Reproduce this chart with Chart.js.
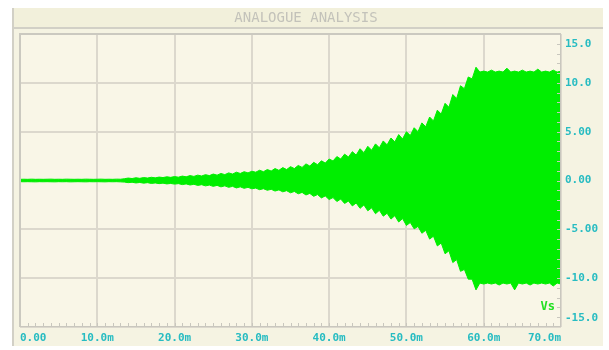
<!DOCTYPE html>
<html>
<head>
<meta charset="utf-8">
<title>ANALOGUE ANALYSIS</title>
<script src="https://cdn.jsdelivr.net/npm/chart.js@4/dist/chart.umd.min.js"></script>
<style>
  html, body { margin: 0; padding: 0; background: #ffffff; }
  #wrap { width: 609px; height: 350px; }
</style>
</head>
<body>
<div id="wrap"><canvas id="c" width="609" height="350"></canvas></div>
<script>
// Simulation time, in milliseconds
const timeMs = [
  0,0.5,1,1.5,2,2.5,3,3.5,4,4.5,5,5.5,6,6.5,7,7.5,8,8.5,9,9.5,10,10.5,11,11.5,12,12.5,13,
  13.5,14,14.5,15,15.5,16,16.5,17,17.5,18,18.5,19,19.5,20,
  20.5,21,21.5,22,22.5,23,23.5,24,24.5,25,25.5,26,26.5,27,27.5,28,28.5,29,29.5,30,
  30.5,31,31.5,32,32.5,33,33.5,34,34.5,35,35.5,36,36.5,37,37.5,38,38.5,39,39.5,40,
  40.5,41,41.5,42,42.5,43,43.5,44,44.5,45,45.5,46,46.5,47,47.5,48,48.5,49,49.5,50,
  50.5,51,51.5,52,52.5,53,53.5,54,54.5,55,55.5,56,56.5,57,57.5,58,58.5,59,59.5,60,
  60.5,61,61.5,62,62.5,63,63.5,64,64.5,65,65.5,66,66.5,67,67.5,68,68.5,69,69.5,70
];

// Vs: upper peaks of the oscillation (V)
const vsUpper = [
  0.12,0.13,0.12,0.14,0.12,0.13,0.12,0.13,0.14,0.12,0.13,0.12,0.14,0.13,0.12,0.13,0.12,0.14,0.13,0.12,0.13,0.14,0.12,0.13,0.12,0.14,0.13,
  0.18,0.25,0.2,0.28,0.22,0.3,0.25,0.33,0.27,0.35,0.3,0.38,0.32,0.4,
  0.34,0.45,0.38,0.5,0.42,0.55,0.46,0.6,0.5,0.66,0.55,0.72,0.6,0.78,0.66,0.85,0.72,0.9,0.78,0.95,
  0.85,1.05,0.9,1.12,0.97,1.22,1.04,1.32,1.12,1.42,1.22,1.54,1.34,1.7,1.48,1.86,1.62,2.02,1.78,2.2,
  2.0,2.45,2.2,2.7,2.4,2.95,2.6,3.25,2.85,3.5,3.1,3.75,3.35,4.05,3.65,4.35,3.95,4.7,4.25,5.0,
  4.6,5.4,5.0,5.9,5.5,6.5,6.1,7.2,6.8,7.9,7.5,8.8,8.4,9.7,9.4,10.6,10.4,11.6,11.1,11.2,
  11.1,11.3,11.1,11.2,11.1,11.5,11.1,11.2,11.1,11.3,11.1,11.2,11.1,11.4,11.1,11.2,11.1,11.3,11.1,11.2
];

// Vs: lower peaks of the oscillation (V)
const vsLower = [
  -0.12,-0.13,-0.12,-0.13,-0.14,-0.12,-0.13,-0.12,-0.13,-0.14,-0.12,-0.13,-0.12,-0.14,-0.13,-0.12,-0.13,-0.14,-0.12,-0.13,-0.12,-0.13,-0.14,-0.12,-0.13,-0.12,-0.14,
  -0.16,-0.22,-0.18,-0.25,-0.2,-0.27,-0.22,-0.3,-0.25,-0.32,-0.27,-0.35,-0.3,-0.37,
  -0.32,-0.42,-0.35,-0.46,-0.39,-0.5,-0.43,-0.55,-0.47,-0.6,-0.5,-0.65,-0.55,-0.7,-0.6,-0.76,-0.65,-0.8,-0.7,-0.85,
  -0.78,-0.94,-0.84,-1.0,-0.9,-1.08,-0.96,-1.16,-1.04,-1.26,-1.12,-1.36,-1.22,-1.48,-1.32,-1.62,-1.44,-1.78,-1.58,-1.95,
  -1.75,-2.15,-1.9,-2.35,-2.1,-2.6,-2.3,-2.85,-2.5,-3.1,-2.8,-3.4,-3.05,-3.65,-3.35,-3.95,-3.6,-4.25,-3.9,-4.6,
  -4.3,-4.95,-4.7,-5.4,-5.1,-6.0,-5.7,-6.7,-6.4,-7.5,-7.2,-8.4,-8.1,-9.3,-9.1,-10.1,-10.1,-11.2,-10.5,-10.6,
  -10.5,-10.6,-10.5,-10.7,-10.5,-10.6,-10.5,-11.2,-10.5,-10.6,-10.5,-10.7,-10.5,-10.6,-10.5,-10.6,-10.5,-10.8,-10.5,-10.6
];

// Axis tick values and their printed labels
const xTickValues = [0, 10, 20, 30, 40, 50, 60, 70];
const xTickLabels = ['0.00', '10.0m', '20.0m', '30.0m', '40.0m', '50.0m', '60.0m', '70.0m'];
const yTickValues = [15, 10, 5, 0, -5, -10, -15];
const yTickLabels = ['15.0', '10.0', '5.00', '0.00', '-5.00', '-10.0', '-15.0'];

const chartTitle = 'ANALOGUE ANALYSIS';
const traceName = 'Vs';

const TRACE = 'rgb(0, 238, 0)';
const LABEL = '#27bcc2';
const GRID = '#dcd8cd';
const FRAME = '#d2d0c6';
const MONO = '"DejaVu Sans Mono", "Liberation Mono", monospace';

// Panel, title band and plot backgrounds
const panelPlugin = {
  id: 'panel',
  beforeDraw(chart) {
    const ctx = chart.ctx;
    const a = chart.chartArea;
    ctx.save();
    ctx.fillStyle = '#ffffff';
    ctx.fillRect(0, 0, chart.width, chart.height);
    // outer panel
    ctx.fillStyle = '#f5f3e2';
    ctx.fillRect(12, 8, 591, 338);
    // title band
    ctx.fillStyle = '#f2f0db';
    ctx.fillRect(12, 8, 591, 19);
    ctx.strokeStyle = FRAME;
    ctx.lineWidth = 2;
    ctx.beginPath();
    ctx.moveTo(12, 28); ctx.lineTo(603, 28);
    ctx.moveTo(13, 8); ctx.lineTo(13, 346);
    ctx.stroke();
    // plot background
    ctx.fillStyle = '#f9f6e7';
    ctx.fillRect(a.left, a.top, a.right - a.left, a.bottom - a.top);
    ctx.restore();
  }
};

// Frame, minor ticks, tick labels, title and trace name
const decorPlugin = {
  id: 'decor',
  afterDraw(chart) {
    const ctx = chart.ctx;
    const a = chart.chartArea;
    const xs = chart.scales.x;
    const ys = chart.scales.y;
    ctx.save();

    // left and top borders
    ctx.strokeStyle = '#cbc9c0';
    ctx.lineWidth = 2;
    ctx.beginPath();
    ctx.moveTo(a.left, a.bottom); ctx.lineTo(a.left, a.top); ctx.lineTo(a.right, a.top);
    ctx.stroke();

    // bottom and right borders with minor ticks
    ctx.strokeStyle = '#c9c7be';
    ctx.lineWidth = 1;
    ctx.beginPath();
    ctx.moveTo(a.left, a.bottom - 0.5); ctx.lineTo(a.right, a.bottom - 0.5);
    ctx.moveTo(a.right - 0.5, a.top); ctx.lineTo(a.right - 0.5, a.bottom);
    for (let t = 1; t < 70; t++) {
      const px = Math.round(xs.getPixelForValue(t)) + 0.5;
      ctx.moveTo(px, a.bottom); ctx.lineTo(px, a.bottom - 4);
    }
    for (let v = -14; v < 15; v++) {
      const py = Math.round(ys.getPixelForValue(v)) + 0.5;
      ctx.moveTo(a.right, py); ctx.lineTo(a.right - 4, py);
    }
    ctx.stroke();

    // x tick labels
    ctx.font = 'bold 11px ' + MONO;
    ctx.fillStyle = LABEL;
    ctx.textBaseline = 'middle';
    xTickValues.forEach((v, i) => {
      const px = xs.getPixelForValue(v);
      ctx.textAlign = i === 0 ? 'left' : (i === xTickValues.length - 1 ? 'right' : 'center');
      ctx.fillText(xTickLabels[i], px, a.bottom + 11);
    });

    // y tick labels, kept inside the plot height
    ctx.textAlign = 'left';
    yTickValues.forEach((v, i) => {
      let py = ys.getPixelForValue(v);
      py = Math.min(Math.max(py, a.top + 10), a.bottom - 9);
      ctx.fillText(yTickLabels[i], a.right + 4, py);
    });

    // title
    ctx.font = '14px ' + MONO;
    ctx.fillStyle = '#c3c2ba';
    ctx.textAlign = 'center';
    ctx.fillText(chartTitle, 306, 18);

    // trace name
    ctx.font = 'bold 12px ' + MONO;
    ctx.fillStyle = '#22e022';
    ctx.textAlign = 'right';
    ctx.fillText(traceName, a.right - 6, a.bottom - 20);

    ctx.restore();
  }
};

new Chart(document.getElementById('c'), {
  type: 'line',
  data: {
    labels: timeMs,
    datasets: [
      {
        label: traceName,
        data: vsUpper,
        borderColor: TRACE,
        backgroundColor: TRACE,
        borderWidth: 1,
        pointRadius: 0,
        tension: 0,
        fill: '+1'
      },
      {
        label: traceName + ' (min)',
        data: vsLower,
        borderColor: TRACE,
        backgroundColor: TRACE,
        borderWidth: 1,
        pointRadius: 0,
        tension: 0,
        fill: false
      }
    ]
  },
  options: {
    responsive: false,
    devicePixelRatio: 1,
    animation: false,
    layout: { padding: { left: 20, top: 34, right: 0, bottom: 0 } },
    plugins: {
      legend: { display: false },
      title: { display: false },
      tooltip: { enabled: false }
    },
    scales: {
      x: {
        type: 'linear',
        position: 'bottom',
        min: 0,
        max: 70,
        ticks: { display: false, stepSize: 10 },
        grid: { color: GRID, lineWidth: 2, drawTicks: false },
        border: { display: false },
        afterFit(scale) { scale.height = 23; }
      },
      y: {
        type: 'linear',
        position: 'right',
        min: -15,
        max: 15,
        ticks: { display: false, stepSize: 5 },
        grid: { color: GRID, lineWidth: 2, drawTicks: false },
        border: { display: false },
        afterFit(scale) { scale.width = 48; }
      }
    }
  },
  plugins: [panelPlugin, decorPlugin]
});
</script>
</body>
</html>
